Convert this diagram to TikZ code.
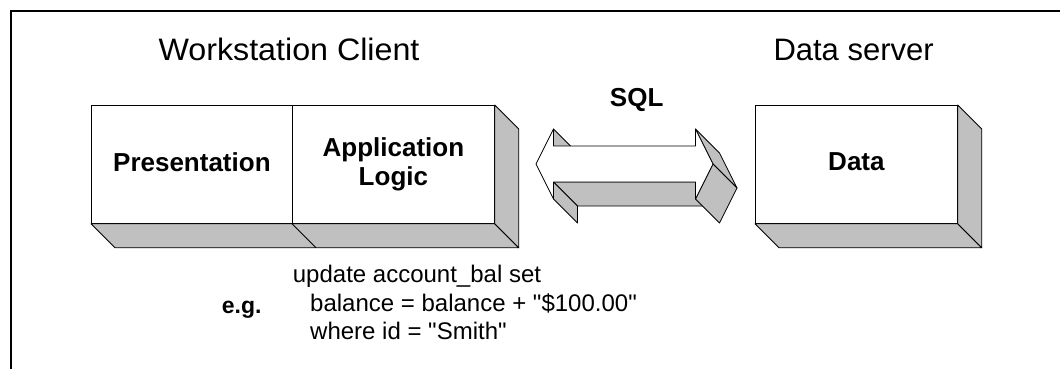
\documentclass[tikz,border=0pt]{standalone}
\usepackage{fontspec}
\setmainfont{Liberation Sans}
\newfontfamily\codefont[Ligatures=TeXOff]{Liberation Sans}
\usetikzlibrary{calc}
\definecolor{sidegray}{RGB}{192,192,192}
\tikzset{
  frontface/.style={draw, fill=white, line width=0.8pt, inner sep=0pt,
    minimum height=118pt, anchor=north west,
    font=\fontsize{26}{29}\selectfont\bfseries, align=center},
  sideface/.style={draw, fill=sidegray, line width=0.8pt, line join=round},
  heading/.style={anchor=base west, inner sep=0pt, font=\fontsize{31}{36}\selectfont},
  codeline/.style={anchor=base west, inner sep=0pt, font=\codefont\fontsize{24}{28}\selectfont},
  boldlabel/.style={anchor=base, inner sep=0pt, font=\fontsize{26}{29}\selectfont\bfseries},
}
\begin{document}
\begin{tikzpicture}[x=1pt, y=-1pt]
\useasboundingbox (0,0) rectangle (1060,369);

% frame
\draw[line width=2.2pt] (10.7,369) -- (10.7,11.2) -- (1060,11.2);

% headings
\node[heading] (wshead) at (158.3,60) {\scalebox{1.04}[1]{Workstation Client}};
\node[heading] (dshead) at (773.3,60) {Data server};

% client box: two front faces
\node[frontface, minimum width=201pt, text depth=5pt] (pres) at (91,105) {Presentation};
\node[frontface, minimum width=202pt] (appl) at (292,105) {Application\\Logic};
% client box: depth faces
\draw[sideface] (pres.south west) -- (appl.south east) -- ++(24,24) -- ($(pres.south west)+(24,24)$) -- cycle;
\draw[sideface] (appl.north east) -- ++(24,24) -- ($(appl.south east)+(24,24)$) -- (appl.south east) -- cycle;
\draw[line width=0.8pt] (appl.south west) -- ++(24,24);

% data server box
\node[frontface, minimum width=202pt, text depth=5pt] (data) at (755,105) {Data};
\draw[sideface] (data.south west) -- (data.south east) -- ++(24,24) -- ($(data.south west)+(24,24)$) -- cycle;
\draw[sideface] (data.north east) -- ++(24,24) -- ($(data.south east)+(24,24)$) -- (data.south east) -- cycle;

% extruded double arrow between the two boxes
\coordinate (sqlc) at (624.5,164);
\begin{scope}[shift={(sqlc)}]
  \coordinate (tA) at (-88.5,0);
  \coordinate (tB) at (-71,-35);
  \coordinate (tC) at (-71,-18);
  \coordinate (tD) at (71,-18);
  \coordinate (tE) at (71,-35);
  \coordinate (tF) at (88.5,0);
  \coordinate (tG) at (71,35);
  \coordinate (tH) at (71,18);
  \coordinate (tI) at (-71,18);
  \coordinate (tJ) at (-71,35);
\end{scope}
\draw[sideface] (tB) -- (tC) -- ($(tC)+(24,24)$) -- ($(tB)+(24,24)$) -- cycle;
\draw[sideface] (tI) -- (tH) -- ($(tH)+(24,24)$) -- ($(tI)+(24,24)$) -- cycle;
\draw[sideface] (tI) -- (tJ) -- ($(tJ)+(24,24)$) -- ($(tI)+(24,24)$) -- cycle;
\draw[sideface] (tE) -- (tF) -- ($(tF)+(24,24)$) -- ($(tE)+(24,24)$) -- cycle;
\draw[sideface] (tF) -- (tG) -- ($(tG)+(24,24)$) -- ($(tF)+(24,24)$) -- cycle;
\draw[line width=0.8pt, fill=white, line join=round]
  (tA) -- (tB) -- (tC) -- (tD) -- (tE) -- (tF) -- (tG) -- (tH) -- (tI) -- (tJ) -- cycle;
\node[boldlabel] (sql) at (636.7,106.7) {SQL};

% example statement
\node[boldlabel, anchor=base west, font=\fontsize{23}{28}\selectfont\bfseries] (eg) at (221.7,313) {e.g.};
\node[codeline] (code1) at (292.7,282.3) {update account\_bal set};
\node[codeline] (code2) at (310,311) {balance = balance + "\$100.00"};
\node[codeline] (code3) at (310,339.3) {where id = "Smith"};
\end{tikzpicture}
\end{document}
